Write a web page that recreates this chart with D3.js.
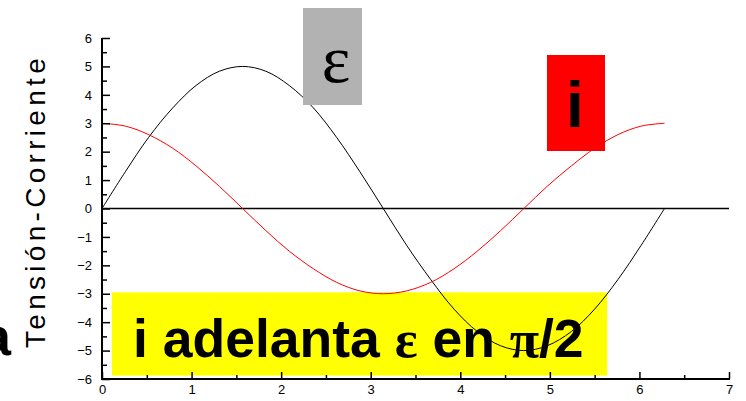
<!DOCTYPE html>
<html>
<head>
<meta charset="utf-8">
<script src="https://cdn.jsdelivr.net/npm/d3@7"></script>
<style>
  body { margin: 0; background: #fff; }
  svg { display: block; font-family: "Liberation Sans", Arial, sans-serif; }
</style>
</head>
<body>
<svg id="chart" width="746" height="401"></svg>
<script>
const tValues = [0, 0.26, 0.52, 0.79, 1.05, 1.31, 1.57, 1.83, 2.09, 2.36, 2.62, 2.88, 3.14,
                 3.40, 3.67, 3.93, 4.19, 4.45, 4.71, 4.97, 5.24, 5.50, 5.76, 6.02, 6.28];
const epsValues = [0, 1.29, 2.5, 3.54, 4.33, 4.83, 5, 4.83, 4.33, 3.54, 2.5, 1.29, 0,
                   -1.29, -2.5, -3.54, -4.33, -4.83, -5, -4.83, -4.33, -3.54, -2.5, -1.29, 0];
const iValues = [3, 2.9, 2.6, 2.12, 1.5, 0.78, 0, -0.78, -1.5, -2.12, -2.6, -2.9, -3,
                 -2.9, -2.6, -2.12, -1.5, -0.78, 0, 0.78, 1.5, 2.12, 2.6, 2.9, 3];
const xTicks = [0, 1, 2, 3, 4, 5, 6, 7];
const xMinorTicks = [0.5, 1.5, 2.5, 3.5, 4.5, 5.5, 6.5];
const yTicks = [-6, -5, -4, -3, -2, -1, 0, 1, 2, 3, 4, 5, 6];
const yMinorTicks = [-5.5, -4.5, -3.5, -2.5, -1.5, -0.5, 0.5, 1.5, 2.5, 3.5, 4.5, 5.5];

const svg = d3.select('#chart');

const x = d3.scaleLinear().domain([0, 7]).range([102, 729]);
const y = d3.scaleLinear().domain([-6, 6]).range([379, 38]);

// yellow note box sits under the curves
svg.append('rect')
    .attr('x', x(0.11)).attr('y', y(-2.95))
    .attr('width', x(5.64) - x(0.11)).attr('height', y(-5.88) - y(-2.95))
    .attr('fill', '#ffff00');

const note = svg.append('text')
    .attr('x', 133).attr('y', 357)
    .attr('font-size', 53.5)
    .attr('font-weight', 'bold')
    .attr('fill', '#000');
note.append('tspan').text('i adelanta ');
note.append('tspan').attr('font-family', '"Liberation Serif", serif').text('ε');
note.append('tspan').text(' en ');
note.append('tspan').attr('font-family', '"Liberation Serif", serif').text('π');
note.append('tspan').text('/2');

// cut-off word at the left edge
svg.append('text')
    .attr('x', 11).attr('y', 355)
    .attr('text-anchor', 'end')
    .attr('font-size', 53)
    .attr('font-weight', 'bold')
    .text('a');

// zero line
svg.append('line')
    .attr('x1', x(0)).attr('x2', x(7))
    .attr('y1', y(0)).attr('y2', y(0))
    .attr('stroke', '#000')
    .attr('stroke-width', 1.5);

const line = (vals) => d3.line()
    .x((d, i) => x(tValues[i]))
    .y(d => y(d))
    .curve(d3.curveCatmullRom)(vals);

svg.append('path')
    .attr('d', line(epsValues))
    .attr('fill', 'none')
    .attr('stroke', '#000')
    .attr('stroke-width', 1);

svg.append('path')
    .attr('d', line(iValues))
    .attr('fill', 'none')
    .attr('stroke', '#ff0000')
    .attr('stroke-width', 1);

// axes
const yAxis = svg.append('g')
    .attr('transform', `translate(${x(0)},0)`)
    .call(d3.axisLeft(y).tickValues(yTicks).tickSize(-8).tickPadding(10).tickFormat(d3.format('d')));
const yMinor = svg.append('g')
    .attr('transform', `translate(${x(0)},0)`)
    .call(d3.axisLeft(y).tickValues(yMinorTicks).tickSize(-5).tickFormat(''));
const xAxis = svg.append('g')
    .attr('transform', `translate(0,${y(-6)})`)
    .call(d3.axisBottom(x).tickValues(xTicks).tickSize(-7).tickPadding(6).tickFormat(d3.format('d')));
const xMinor = svg.append('g')
    .attr('transform', `translate(0,${y(-6)})`)
    .call(d3.axisBottom(x).tickValues(xMinorTicks).tickSize(-4).tickFormat(''));

[yAxis, yMinor, xAxis, xMinor].forEach(g => {
    g.select('.domain').remove();
    g.selectAll('.tick line').attr('stroke', '#000').attr('stroke-width', 1.5);
    g.selectAll('.tick text')
        .attr('font-family', '"Liberation Sans", Arial, sans-serif')
        .attr('font-size', 13)
        .attr('fill', '#000');
});

svg.append('line')
    .attr('x1', x(0)).attr('x2', x(0)).attr('y1', y(6)).attr('y2', y(-6) + 1)
    .attr('stroke', '#000').attr('stroke-width', 2);
svg.append('line')
    .attr('x1', x(0) - 1).attr('x2', x(7) + 1).attr('y1', y(-6)).attr('y2', y(-6))
    .attr('stroke', '#000').attr('stroke-width', 2);

// y label
svg.append('text')
    .attr('transform', `translate(45,${(57 + 345) / 2}) rotate(-90)`)
    .attr('text-anchor', 'middle')
    .attr('font-size', 28)
    .attr('letter-spacing', 4.3)
    .attr('fill', '#000')
    .text('Tensión-Corriente');

// label boxes on top of the curves
svg.append('rect')
    .attr('x', 303).attr('y', 8).attr('width', 59).attr('height', 97)
    .attr('fill', '#b2b2b2');
svg.append('text')
    .attr('x', 336).attr('y', 82)
    .attr('text-anchor', 'middle')
    .attr('font-family', '"Liberation Serif", serif')
    .attr('font-size', 68)
    .text('ε');

svg.append('rect')
    .attr('x', 547).attr('y', 55).attr('width', 58).attr('height', 96)
    .attr('fill', '#ff0000');
svg.append('text')
    .attr('x', 575).attr('y', 127)
    .attr('text-anchor', 'middle')
    .attr('font-size', 64)
    .attr('font-weight', 'bold')
    .text('i');
</script>
</body>
</html>
